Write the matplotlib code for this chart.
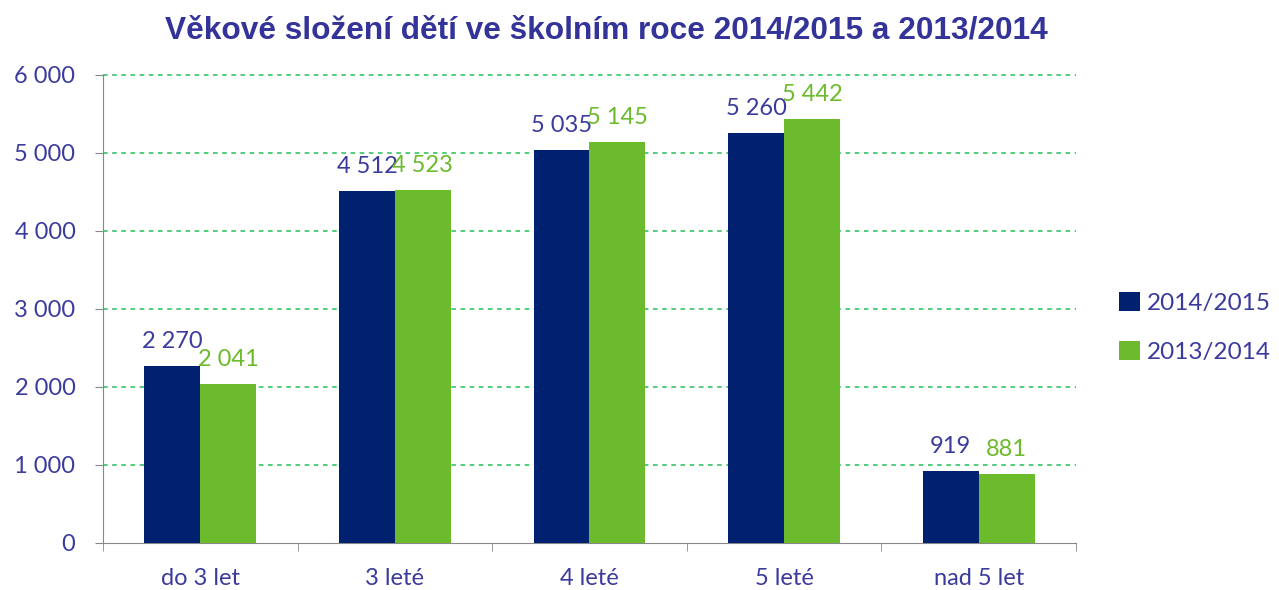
import matplotlib.pyplot as plt
import numpy as np

# data
categories = ['do 3 let', '3 leté', '4 leté', '5 leté', 'nad 5 let']
series_names = ['2014/2015', '2013/2014']
values_2014_2015 = [2270, 4512, 5035, 5260, 919]
values_2013_2014 = [2041, 4523, 5145, 5442, 881]
yticks = [0, 1000, 2000, 3000, 4000, 5000, 6000]

navy = '#002070'
green = '#6BBB2C'
text_blue = '#3B3B9E'
grid_green = '#22C05A'

def fmt(v):
    return f'{v:,}'.replace(',', ' ')

fig = plt.figure(figsize=(12.79, 5.90), dpi=100)
ax = fig.add_axes([0.0805, 0.0797, 0.7608, 0.7932])

x = np.arange(len(categories))
w = 0.2875
b1 = ax.bar(x - w / 2, values_2014_2015, w, color=navy, label=series_names[0], zorder=3)
b2 = ax.bar(x + w / 2, values_2013_2014, w, color=green, label=series_names[1], zorder=3)

for bars, vals, col in [(b1, values_2014_2015, text_blue), (b2, values_2013_2014, green)]:
    for rect, v in zip(bars, vals):
        ax.annotate(fmt(v), (rect.get_x() + rect.get_width() / 2, v),
                    xytext=(0, 10), textcoords='offset points', ha='center', va='bottom',
                    fontsize=17, color=col, family='Lato')

ax.set_xlim(-0.5, len(categories) - 0.5)
ax.set_ylim(0, 6000)
ax.set_yticks(yticks)
ax.set_yticklabels([fmt(v) for v in yticks], fontsize=17, color=text_blue, family='Lato')
ax.set_xticks(x)
ax.set_xticklabels(categories, fontsize=17, color=text_blue, family='Lato')
ax.set_xticks(np.arange(-0.5, len(categories)), minor=True)
ax.tick_params(axis='x', which='major', length=0, pad=18)
ax.tick_params(axis='x', which='minor', length=6, color='#888888', direction='out')
ax.tick_params(axis='y', length=5.8, color='#888888', pad=14)

for s in ['top', 'right']:
    ax.spines[s].set_visible(False)
for s in ['left', 'bottom']:
    ax.spines[s].set_color('#888888')

for yv in yticks[1:]:
    ax.axhline(yv, color=grid_green, linestyle=(0, (3, 3)), linewidth=1.1, zorder=1, clip_on=False)

fig.text(0.474, 0.948, 'Věkové složení dětí ve školním roce 2014/2015 a 2013/2014',
         ha='center', va='center', fontsize=22.8, fontweight='bold', color='#333399',
         family='Liberation Sans')

leg = fig.legend(handles=[b1, b2], loc='center left', bbox_to_anchor=(0.875, 0.445),
                 frameon=False, handlelength=0.85, handleheight=0.85,
                 handletextpad=0.3, labelspacing=1.1, borderaxespad=0, borderpad=0,
                 prop={'family': 'Lato', 'size': 17.5})
for t in leg.get_texts():
    t.set_color(text_blue)

fig.savefig('out.png', dpi=100)
